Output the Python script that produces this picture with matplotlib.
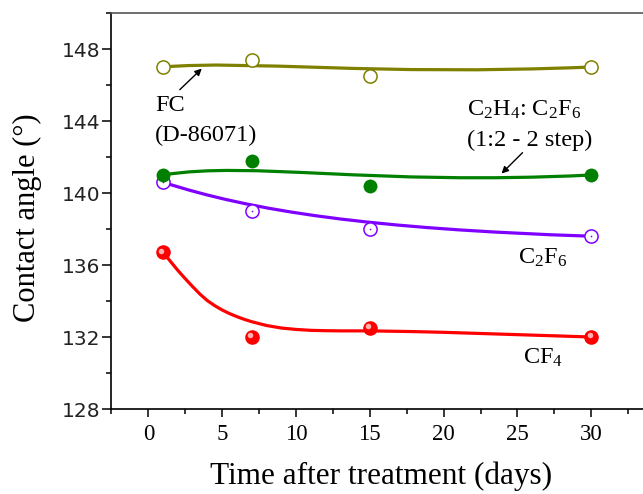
import matplotlib
matplotlib.use("Agg")
import matplotlib.pyplot as plt
from matplotlib.path import Path
from matplotlib.patches import PathPatch
from matplotlib.ticker import MultipleLocator
import matplotlib.transforms as mtransforms

plt.rcParams['font.family'] = ['Liberation Serif', 'DejaVu Sans']
plt.rcParams['mathtext.fontset'] = 'custom'
plt.rcParams['mathtext.rm'] = 'Liberation Serif'
plt.rcParams['mathtext.it'] = 'Liberation Serif:italic'

days = [1, 7, 15, 30]
fc = [147.0, 147.4, 146.5, 147.0]
c2h4_c2f6 = [141.0, 141.8, 140.4, 141.0]
c2f6 = [140.6, 139.0, 138.0, 137.6]
cf4 = [136.7, 132.0, 132.5, 132.0]
# smooth fitted curve for CF4
cf4_fit_days = [1, 1.5, 2, 2.5, 3, 3.5, 4, 4.5, 5, 5.5, 6, 6.5, 7, 8, 9, 10, 11, 12, 13,
                15, 18, 20, 25, 30]
cf4_fit = [136.7, 136.2, 135.7, 135.24, 134.8, 134.38, 134.02, 133.74, 133.5, 133.3,
           133.13, 132.98, 132.85, 132.64, 132.5, 132.42, 132.37, 132.35, 132.34,
           132.34, 132.3, 132.26, 132.13, 132.0]
xticks = [0, 5, 10, 15, 20, 25, 30]
yticks = [128, 132, 136, 140, 144, 148]

fig = plt.figure(figsize=(6.43, 4.94), dpi=100)
ax = fig.add_axes([111.4 / 643, 85 / 494, 1 - 111.4 / 643, 396 / 494])
ax.set_xlim(-2.5, 33.5)
ax.set_ylim(128, 150)


def curve(ys, color, z):
    verts = list(zip(days, ys))
    codes = [Path.MOVETO, Path.CURVE4, Path.CURVE4, Path.CURVE4]
    patch = PathPatch(Path(verts, codes), fill=False, edgecolor=color,
                      lw=2.3, zorder=z, transform=ax.transData)
    ax.add_patch(patch)


olive = '#808000'
green = '#008000'
violet = '#8000FF'
red = '#FF0000'

curve(fc, olive, 2)
curve(c2h4_c2f6, green, 2)
curve(c2f6, violet, 2)
ax.plot(cf4_fit_days, cf4_fit, '-', color=red, lw=2.3, zorder=2,
        solid_joinstyle='round', solid_capstyle='round')

ax.plot(days, fc, 'o', ms=9.5, mfc='white', mec=olive, mew=1.1, zorder=4)
ax.plot(days, c2f6, 'o', ms=9.5, mfc='white', mec=violet, mew=1.1, zorder=4)
ax.plot(days, c2f6, 'o', ms=1.2, mfc=violet, mec=violet, mew=0, zorder=4.5)
ax.plot(days, c2h4_c2f6, 'o', ms=10, mfc=green, mec=green, mew=0, zorder=5)
ax.plot(days, cf4, 'o', ms=10.5, mfc=red, mec=red, mew=0, zorder=5)
hl = mtransforms.offset_copy(ax.transData, fig=fig, x=-1.2, y=1.2, units='points')
ax.plot(days, cf4, 'o', ms=4, mfc='#ffb0b0', mec='none', zorder=5.5, transform=hl)

ax.set_xticks(xticks)
ax.xaxis.set_minor_locator(MultipleLocator(2.5))
ax.set_yticks(yticks)
ax.yaxis.set_minor_locator(MultipleLocator(2))

ax.tick_params(axis='x', which='major', direction='out', length=6, width=1.1,
               labelsize=16.5, pad=5)
ax.tick_params(axis='x', which='minor', direction='out', length=3.5, width=1.1)
ax.tick_params(axis='y', which='major', direction='out', length=6.5, width=1.1,
               labelsize=14.5, pad=1.5)
ax.tick_params(axis='y', which='minor', direction='out', length=3.5, width=1.1)
for lab in ax.get_yticklabels():
    lab.set_fontfamily('DejaVu Sans')
    lab.set_color('#222222')

ax.spines['right'].set_visible(False)
ax.spines['top'].set_color('#555555')
for s in ['left', 'bottom', 'top']:
    ax.spines[s].set_linewidth(1.2)

fig.text(381 / 643, 10 / 494, 'Time after treatment (days)', ha='center',
         va='baseline', fontsize=22.5)
fig.text(27 / 643, 276 / 494, 'Contact angle (°)', ha='center', va='center',
         rotation=90, fontsize=22)

fs = 17.5
ax.text(0.44, 144.58, 'FC', fontsize=fs, ha='left', va='baseline')
ax.text(0.44, 142.87, '(D-86071)', fontsize=fs, ha='left', va='baseline')
ax.text(21.55, 144.3, r'C$_2$H$_4$: C$_2$F$_6$', fontsize=fs, ha='left', va='baseline')
ax.text(21.55, 142.6, '(1:2 - 2 step)', fontsize=fs, ha='left', va='baseline')
ax.text(26.7, 136.1, r'C$_2$F$_6$', fontsize=fs, ha='center', va='baseline')
ax.text(26.7, 130.52, r'CF$_4$', fontsize=fs, ha='center', va='baseline')

arrow = dict(arrowstyle='-|>', lw=1.0, color='black', mutation_scale=10,
             shrinkA=0, shrinkB=0)
ax.annotate('', xy=(3.62, 146.91), xytext=(2.13, 145.74), arrowprops=arrow)
ax.annotate('', xy=(23.92, 141.08), xytext=(25.34, 142.24), arrowprops=arrow)

fig.savefig('out.png', dpi=100)
